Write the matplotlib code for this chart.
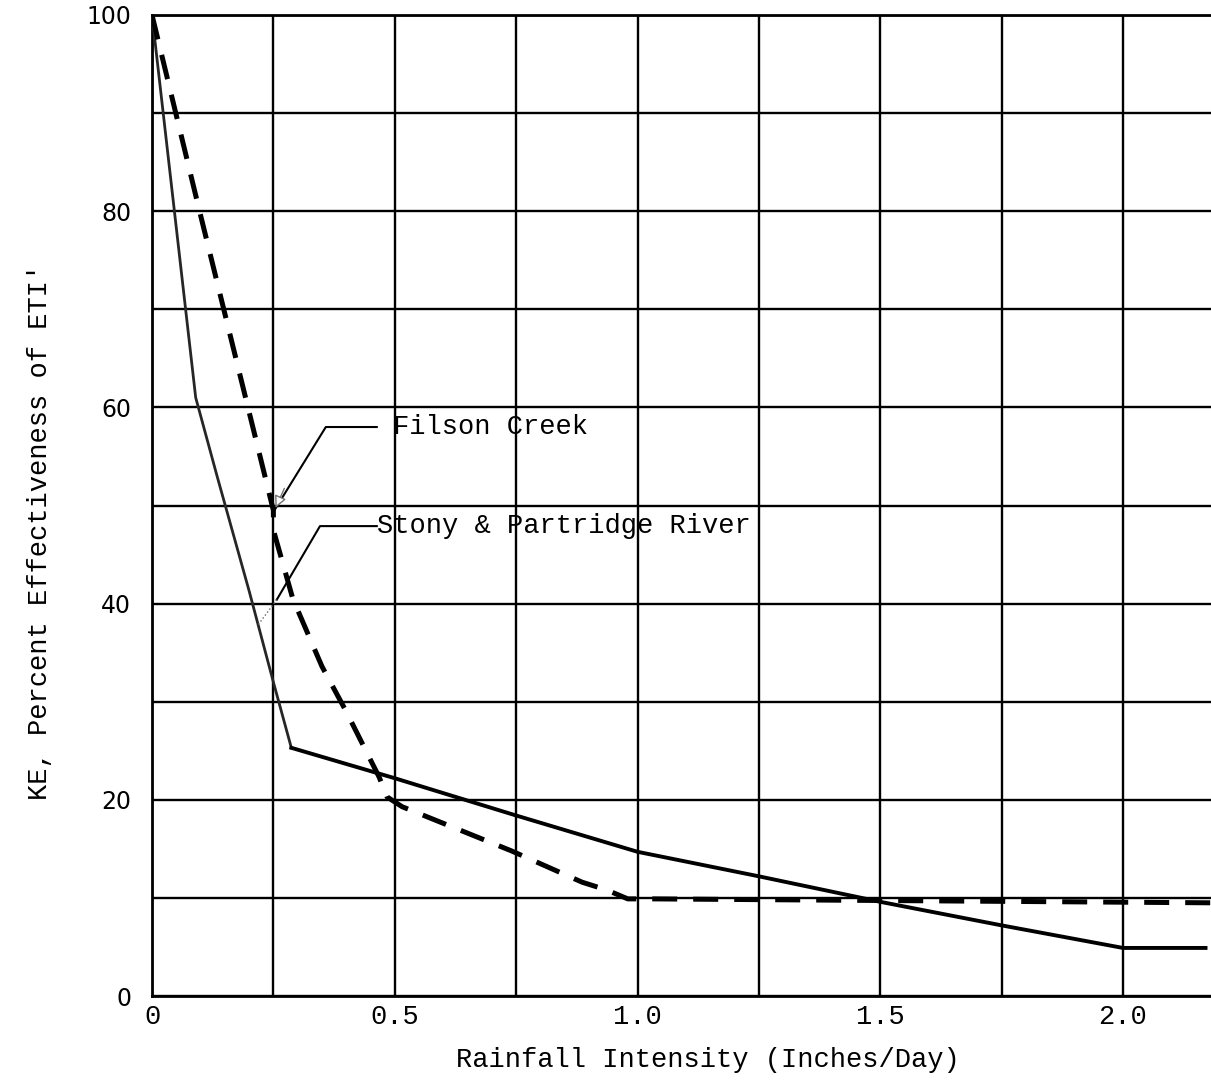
import matplotlib
matplotlib.use('Agg')
import matplotlib.pyplot as plt
from matplotlib.ticker import MultipleLocator

# rainfall intensity (inches/day) vs KE, percent effectiveness
stony_x = [0, 0.09, 0.134, 0.20, 0.25, 0.287, 0.5, 0.75, 1.0, 1.25, 1.5, 1.75, 2.0, 2.17]
stony_y = [100, 61, 53, 41.3, 32, 25.3, 22.2, 18.4, 14.7, 12.2, 9.6, 7.2, 4.9, 4.9]

filson_x = [0, 0.095, 0.25, 0.25, 0.29, 0.35, 0.40, 0.468, 0.484, 0.515, 0.67, 0.74, 0.886, 0.937, 0.98, 1.03, 2.18]
filson_y = [100, 80.6, 49.5, 47.5, 40.5, 33.6, 29.0, 22.3, 20.3, 19.3, 16.2, 14.8, 11.6, 10.8, 9.9, 9.9, 9.5]

x_ticks = [0, 0.5, 1.0, 1.5, 2.0]
x_tick_labels = ['0', '0.5', '1.0', '1.5', '2.0']
y_ticks = [0, 20, 40, 60, 80, 100]

# leader lines for the two labels
filson_leader_x = [0.463, 0.358, 0.252]
filson_leader_y = [58.0, 58.0, 49.5]
stony_leader_x = [0.463, 0.346, 0.257]
stony_leader_y = [47.9, 47.9, 40.4]

mono = 'Liberation Mono'
fs = 19.5

fig = plt.figure(figsize=(12.11, 10.81), dpi=100)
ax = fig.add_axes([152 / 1211, 1 - 996 / 1081, 1 - 152 / 1211, 981 / 1081])

# upper part of the solid curve is drawn lighter than the rest
ax.plot(stony_x[:6], stony_y[:6], color='0.15', linewidth=2.0, solid_joinstyle='round', zorder=3)
ax.plot(stony_x[5:], stony_y[5:], color='black', linewidth=2.8, solid_joinstyle='round', zorder=3)
ax.plot(filson_x, filson_y, color='black', linewidth=3.6, linestyle=(0, (5, 3.2)), zorder=3)

ax.set_xlim(0, (1211 - 152) / 485.5)
ax.set_ylim(0, 100)

ax.xaxis.set_major_locator(MultipleLocator(0.5))
ax.xaxis.set_minor_locator(MultipleLocator(0.25))
ax.yaxis.set_major_locator(MultipleLocator(20))
ax.yaxis.set_minor_locator(MultipleLocator(10))
ax.set_xticks(x_ticks)
ax.set_xticklabels(x_tick_labels, fontfamily=mono, fontsize=fs)
ax.set_yticks(y_ticks)
ax.set_yticklabels([str(v) for v in y_ticks], fontfamily='DejaVu Sans', fontsize=17)
ax.tick_params(which='both', length=0)
ax.tick_params(axis='x', pad=6)
ax.tick_params(axis='y', pad=15)

ax.grid(which='both', color='black', linewidth=1.7)
ax.set_axisbelow(True)
for side in ['left', 'bottom', 'top']:
    ax.spines[side].set_linewidth(2.0)
ax.spines['right'].set_visible(False)

# labels with elbow leader lines
ax.plot(filson_leader_x, filson_leader_y, color='black', linewidth=1.5, zorder=4)
ax.annotate('', xy=(filson_leader_x[2], filson_leader_y[2]), xytext=(0.275, 52.0),
            arrowprops=dict(arrowstyle='-|>', color='0.45', lw=1.0, mutation_scale=18,
                            fc='white'), zorder=4)
ax.text(0.497, 58.0, 'Filson Creek', fontfamily=mono, fontsize=fs, va='center', ha='left')

ax.plot(stony_leader_x, stony_leader_y, color='black', linewidth=1.5, zorder=4)
ax.plot([0.257, 0.218], [40.4, 37.8], color='0.4', linewidth=1.0, linestyle=':', zorder=4)
ax.text(0.463, 47.9, 'Stony & Partridge River', fontfamily=mono, fontsize=fs,
        va='center', ha='left')

fig.text(708 / 1211, 1 - 1060 / 1081, 'Rainfall Intensity (Inches/Day)',
         fontfamily=mono, fontsize=fs, ha='center', va='center')
fig.text(40 / 1211, 1 - 532 / 1081, "KE, Percent Effectiveness of ETI'",
         fontfamily=mono, fontsize=fs, ha='center', va='center', rotation=90)

fig.savefig('out.png', dpi=100, facecolor='white')
